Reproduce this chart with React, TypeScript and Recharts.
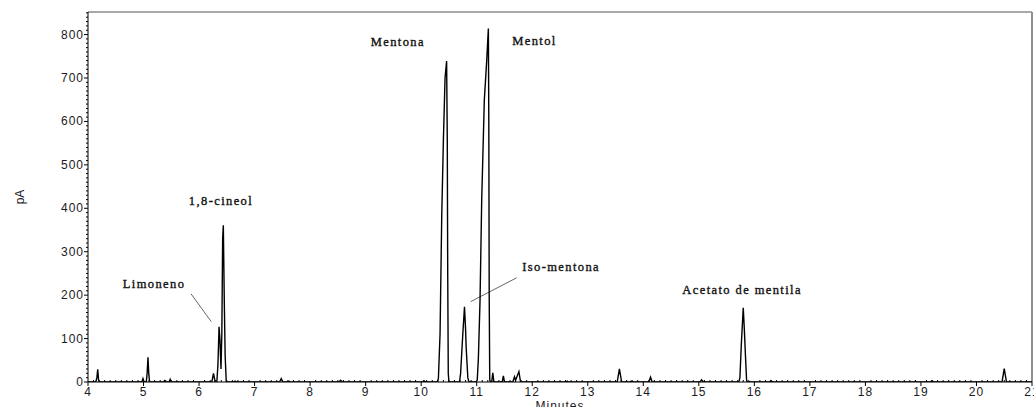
import React from "react";
import { LineChart, Line, XAxis, YAxis, ReferenceLine, ReferenceDot, Label } from "recharts";

// retention time (min) and detector signal (pA)
const times = [
  4.0, 4.14, 4.16, 4.175, 4.19, 4.21,
  4.97, 4.99, 5.01, 5.05, 5.065, 5.08, 5.095, 5.11,
  5.36, 5.38, 5.4, 5.46, 5.48, 5.5,
  6.23, 6.26, 6.29, 6.32, 6.34, 6.36, 6.375, 6.395, 6.41, 6.425, 6.437, 6.455, 6.47, 6.49,
  6.62, 6.65, 6.68, 7.45, 7.48, 7.51, 7.6, 7.62, 7.64, 8.52, 8.55, 8.58,
  10.02, 10.05, 10.08,
  10.29, 10.31, 10.34, 10.37, 10.4, 10.43, 10.458, 10.47, 10.478, 10.488, 10.5,
  10.69, 10.71, 10.75, 10.78, 10.8, 10.81, 10.84, 10.86,
  10.99, 11.01, 11.03, 11.06, 11.09, 11.137, 11.18, 11.21, 11.218, 11.225, 11.235, 11.25,
  11.27, 11.29, 11.31, 11.46, 11.48, 11.5, 11.65, 11.68, 11.7, 11.76, 11.79,
  12.61, 12.63, 12.65, 13.53, 13.57, 13.61, 13.76, 13.78, 13.8, 14.1, 14.13, 14.16,
  15.02, 15.05, 15.08,
  15.72, 15.74, 15.765, 15.8, 15.82, 15.84, 15.86, 15.87,
  16.27, 16.3, 16.33, 19.17, 19.2, 19.23, 20.46, 20.5, 20.54, 21.0,
];
const signal = [
  0, 0, 10, 29, 5, 0,
  0, 8, 0, 0, 20, 57, 18, 0,
  0, 3, 0, 0, 6, 0,
  0, 20, 0, 0, 40, 127, 100, 30, 110, 331, 361, 181, 60, 0,
  0, 2, 0, 0, 8, 0, 0, 2, 0, 0, 4, 0,
  0, 3, 0,
  0, 8, 111, 380, 557, 700, 739, 560, 250, 20, 0,
  0, 20, 111, 173, 120, 80, 10, 0,
  0, 5, 54, 188, 419, 649, 740, 814, 600, 200, 5, 0,
  0, 21, 0, 0, 14, 0, 0, 12, 4, 24, 0,
  0, 2, 0, 0, 30, 0, 0, 2, 0, 0, 11, 0,
  0, 5, 0,
  0, 10, 85, 171, 120, 60, 5, 0,
  0, 3, 0, 0, 3, 0, 0, 31, 0, 0,
];

const peakNames = ["Limoneno", "1,8-cineol", "Mentona", "Iso-mentona", "Mentol", "Acetato de mentila"];
const peakLabelTimes = [5.19, 6.395, 9.58, 12.52, 12.04, 15.78];
const peakLabelValues = [226, 417, 783, 265, 786, 212];

// leader lines: Limoneno, Iso-mentona
const leaderStartTimes = [5.855, 11.72];
const leaderStartValues = [203, 240];
const leaderEndTimes = [6.22, 10.89];
const leaderEndValues = [139, 185];

const xTicks = Array.from({ length: 171 }, (_, i) => (40 + i) / 10);
const yTicks = Array.from({ length: 86 }, (_, i) => i * 10);

const data = times.map((t, i) => ({ t, v: signal[i] }));

const tickFont = { fontFamily: "Liberation Sans, Arial, sans-serif", fontSize: 12, letterSpacing: 1, fill: "#1a1a24" };

const XTick = (props: any) => {
  const { x, y, payload } = props;
  const val = payload.value;
  const major = Math.abs(val - Math.round(val)) < 1e-6;
  if (!major) return <line x1={x} x2={x} y1={y} y2={y - 2} stroke="#000" />;
  return (
    <g>
      <line x1={x} x2={x} y1={y} y2={y + 4} stroke="#000" />
      <text x={x} y={y + 14} textAnchor="middle" {...tickFont}>
        {Math.round(val)}
      </text>
    </g>
  );
};

const YTick = (props: any) => {
  const { x, y, payload } = props;
  const val = payload.value;
  if (val % 100 !== 0) return <line x1={x} x2={x - 2} y1={y} y2={y} stroke="#000" />;
  return (
    <g>
      <line x1={x} x2={x - 4} y1={y} y2={y} stroke="#000" />
      <text x={x - 4} y={y + 4} textAnchor="end" {...tickFont}>
        {val}
      </text>
    </g>
  );
};

export default function App() {
  return (
    <div style={{ position: "absolute", left: 0, top: 0, background: "#fff" }}>
      <LineChart width={1034} height={407} data={data} margin={{ top: 12, right: 2, bottom: 0, left: 0 }}>
        <XAxis
          dataKey="t"
          type="number"
          domain={[4, 21]}
          ticks={xTicks}
          interval={0}
          tick={XTick}
          tickLine={false}
          tickSize={0}
          tickMargin={0}
          height={25}
          axisLine={{ stroke: "#000" }}
          allowDataOverflow
        >
          <Label value="Minutes" position="insideBottom" offset={-3} fontFamily="Liberation Sans, Arial, sans-serif" fontSize={12} letterSpacing={1} fill="#1a1a24" />
        </XAxis>
        <YAxis
          type="number"
          domain={[0, 852]}
          ticks={yTicks}
          interval={0}
          tick={YTick}
          tickLine={false}
          tickSize={0}
          tickMargin={0}
          width={88}
          axisLine={{ stroke: "#000" }}
          allowDataOverflow
        >
          <Label value="pA" angle={-90} position="center" dx={-24} fontFamily="Liberation Sans, Arial, sans-serif" fontSize={12} fill="#1a1a24" />
        </YAxis>
        <ReferenceLine y={852} stroke="#a8a8a8" strokeWidth={2} />
        <ReferenceLine x={21} stroke="#909090" strokeWidth={2} />
        {leaderStartTimes.map((t, i) => (
          <ReferenceLine
            key={"leader" + i}
            segment={[
              { x: t, y: leaderStartValues[i] },
              { x: leaderEndTimes[i], y: leaderEndValues[i] },
            ]}
            stroke="#666"
            strokeWidth={1}
          />
        ))}
        <Line type="linear" dataKey="v" stroke="#000" strokeWidth={1.4} dot={false} isAnimationActive={false} />
        {peakNames.map((name, i) => (
          <ReferenceDot
            key={name}
            x={peakLabelTimes[i]}
            y={peakLabelValues[i]}
            r={0}
            shape={(p: any) => (
              <text
                x={p.cx}
                y={p.cy}
                textAnchor="middle"
                dominantBaseline="central"
                fontFamily="Liberation Serif, Times New Roman, serif"
                fontSize={12.5}
                letterSpacing={1.4}
                fill="#111"
                stroke="#111"
                strokeWidth={0.35}
              >
                {name}
              </text>
            )}
          />
        ))}
      </LineChart>
    </div>
  );
}
